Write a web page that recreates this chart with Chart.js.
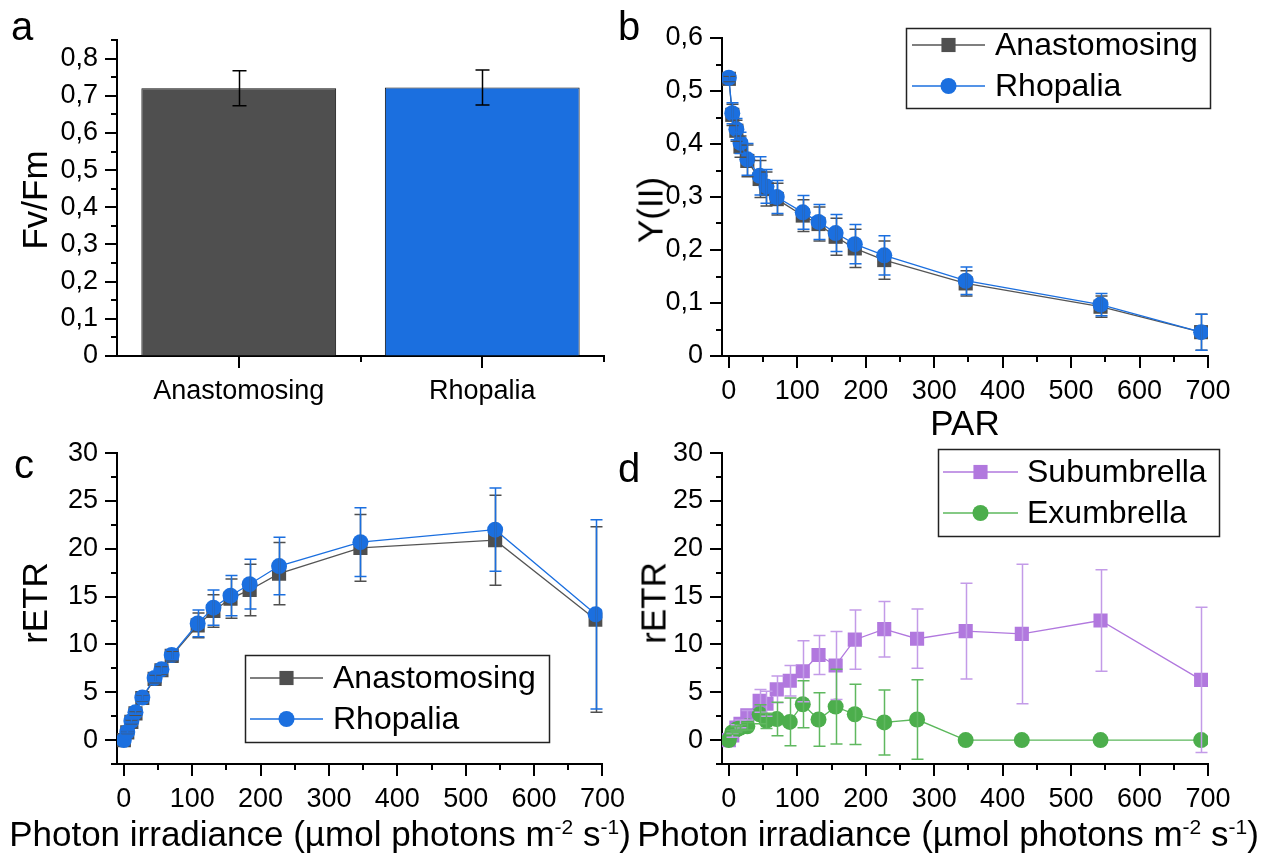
<!DOCTYPE html>
<html>
<head>
<meta charset="utf-8">
<script src="https://cdn.jsdelivr.net/npm/chart.js@4.4.0/dist/chart.umd.min.js"></script>
<style>
body { margin: 0; background: #fff; font-family: "Liberation Sans", Arial, sans-serif; }
#page { position: relative; width: 1264px; height: 855px; overflow: hidden; }
canvas { position: absolute; }
.lbl { position: absolute; color: #000; white-space: nowrap; line-height: 1; }
.letter { font-size: 40px; }
.ytitle { font-size: 35px; transform: translate(-50%, -50%) rotate(-90deg); }
.xtitle { font-size: 35px; transform: translate(-50%, -50%); }
.xtitle sup { font-size: 21px; vertical-align: 0.55em; }
</style>
</head>
<body>
<div id="page">
    <canvas id="chartA" width="632" height="430" style="left:0;top:0"></canvas>
    <canvas id="chartB" width="632" height="430" style="left:632px;top:0"></canvas>
    <canvas id="chartC" width="632" height="425" style="left:0;top:430px"></canvas>
    <canvas id="chartD" width="632" height="425" style="left:632px;top:430px"></canvas>

    <div class="lbl letter" style="left:11px;top:6px">a</div>
    <div class="lbl letter" style="left:618px;top:6px">b</div>
    <div class="lbl letter" style="left:14px;top:444px">c</div>
    <div class="lbl letter" style="left:618px;top:448px">d</div>

    <div class="lbl ytitle" style="left:34px;top:200px">Fv/Fm</div>
    <div class="lbl ytitle" style="left:650px;top:210px">Y(II)</div>
    <div class="lbl ytitle" style="left:34px;top:603px">rETR</div>
    <div class="lbl ytitle" style="left:653px;top:603px">rETR</div>

    <div class="lbl xtitle" style="left:965px;top:422px">PAR</div>
    <div class="lbl xtitle" style="left:320px;top:833px">Photon irradiance (µmol photons m<sup>-2</sup> s<sup>-1</sup>)</div>
    <div class="lbl xtitle" style="left:948px;top:833px">Photon irradiance (µmol photons m<sup>-2</sup> s<sup>-1</sup>)</div>
</div>
<script>
// ---- data ----
const groups = ['Anastomosing', 'Rhopalia'];
const fvfm = [0.720, 0.722];
const fvfmSd = [0.047, 0.047];

// panels b and c share the light steps
const par = [0, 5, 11, 17, 27, 45, 55, 70, 108, 131, 156, 184, 227, 346, 543, 690];
const yiiAnast = [0.523, 0.455, 0.425, 0.395, 0.368, 0.334, 0.315, 0.296, 0.265, 0.249, 0.225, 0.203, 0.181, 0.137, 0.093, 0.045];
const yiiAnastSd = [0.005, 0.02, 0.02, 0.02, 0.03, 0.035, 0.032, 0.03, 0.03, 0.032, 0.035, 0.036, 0.036, 0.024, 0.02, 0.034];
const yiiRhop = [0.525, 0.458, 0.428, 0.402, 0.371, 0.340, 0.320, 0.300, 0.271, 0.253, 0.232, 0.211, 0.190, 0.142, 0.097, 0.045];
const yiiRhopSd = [0.005, 0.02, 0.02, 0.02, 0.03, 0.036, 0.032, 0.031, 0.032, 0.033, 0.035, 0.037, 0.037, 0.026, 0.021, 0.034];

const etrAnast = [0, 0.8, 1.9, 2.8, 4.4, 6.4, 7.3, 8.8, 12.0, 13.5, 14.8, 15.7, 17.4, 20.1, 20.9, 12.6];
const etrAnastSd = [0, 0.1, 0.2, 0.2, 0.3, 0.4, 0.4, 0.5, 1.3, 1.7, 2.05, 2.7, 3.25, 3.5, 4.7, 9.7];
const etrRhop = [0, 0.85, 2.0, 2.9, 4.45, 6.5, 7.4, 8.9, 12.2, 13.85, 15.1, 16.3, 18.2, 20.7, 22.0, 13.15];
const etrRhopSd = [0, 0.1, 0.2, 0.2, 0.3, 0.4, 0.4, 0.5, 1.4, 1.85, 2.1, 2.6, 3.0, 3.6, 4.35, 9.9];

// panel d
const parD = [0, 5, 11, 17, 27, 45, 55, 70, 89, 108, 131, 156, 184, 227, 275, 346, 428, 543, 690];
const etrSub = [0, 0.5, 1.3, 1.7, 2.6, 4.1, 3.8, 5.3, 6.2, 7.2, 8.9, 7.8, 10.5, 11.6, 10.6, 11.4, 11.1, 12.5, 6.3];
const etrSubSd = [0, 0.2, 0.3, 0.4, 0.5, 1.2, 1.3, 1.4, 1.6, 3.2, 2.05, 3.55, 3.1, 2.9, 3.1, 5.0, 7.3, 5.3, 7.6];
const etrExo = [0, 0.8, 1.1, 1.3, 1.45, 2.7, 2.0, 2.2, 1.9, 3.75, 2.15, 3.5, 2.7, 1.85, 2.15, 0, 0, 0, 0];
const etrExoSd = [0, 0.2, 0.3, 0.3, 0.4, 1.0, 0.8, 1.75, 2.5, 2.45, 2.8, 3.9, 3.15, 3.4, 4.15, 0, 0, 0, 0];

// tick labels
const fvTicks = [0, 0.1, 0.2, 0.3, 0.4, 0.5, 0.6, 0.7, 0.8];
const yiiTicks = [0, 0.1, 0.2, 0.3, 0.4, 0.5, 0.6];
const parTicks = [0, 100, 200, 300, 400, 500, 600, 700];
const etrTicks = [0, 5, 10, 15, 20, 25, 30];

const GREY = '#4f4f4f';
const BLUE = '#1b6fdf';
const PURPLE = '#b178de';
const GREEN = '#4cae4c';
const FONT = 'Liberation Sans';
const TICK_SIZE = 27;

// minor ticks sit halfway between major ones
function minorsOf(majors, min, max) {
    const step = majors[1] - majors[0];
    const out = [];
    majors.forEach(m => out.push(m - step / 2));
    out.push(majors[majors.length - 1] + step / 2);
    return out.filter(v => v >= min - 1e-9 && v <= max + 1e-9 && !majors.some(m => Math.abs(m - v) < 1e-9));
}
const comma = v => v === 0 ? '0' : v.toFixed(1).replace('.', ',');
const isIn = (list, v) => list.some(m => Math.abs(m - v) < 1e-9);
const pts = (xs, ys) => xs.map((x, i) => ({ x: x, y: ys[i] }));

// outward major/minor ticks like Origin
const outTicks = {
    id: 'outTicks',
    afterDraw(chart, args, o) {
        const ctx = chart.ctx;
        const area = chart.chartArea;
        ctx.save();
        ctx.strokeStyle = '#000';
        ctx.lineWidth = 2;
        ['x', 'y'].forEach(id => {
            const s = chart.scales[id];
            const spec = o[id];
            if (!spec) return;
            const draw = (vals, len) => vals.forEach(v => {
                const p = Math.round(s.getPixelForValue(v));
                ctx.beginPath();
                if (id === 'x') { ctx.moveTo(p, area.bottom); ctx.lineTo(p, area.bottom + len); }
                else { ctx.moveTo(area.left, p); ctx.lineTo(area.left - len, p); }
                ctx.stroke();
            });
            draw(spec.major, 12);
            draw(spec.minor, 6);
        });
        ctx.restore();
    }
};

const errorBars = {
    id: 'errorBars',
    afterDatasetsDraw(chart) {
        const ctx = chart.ctx;
        const ys = chart.scales.y;
        const order = chart.data.datasets.map((d, i) => i).sort((a, b) => (chart.data.datasets[b].order || 0) - (chart.data.datasets[a].order || 0));
        order.forEach(i => {
            const ds = chart.data.datasets[i];
            if (!ds.errors) return;
            const meta = chart.getDatasetMeta(i);
            ctx.save();
            ctx.strokeStyle = ds.errorColor;
            ctx.lineWidth = 1.5;
            meta.data.forEach((el, j) => {
                const e = ds.errors[j];
                if (!e) return;
                const v = meta.controller.getParsed(j).y;
                const x = Math.round(el.x) + 0.5;
                const top = ys.getPixelForValue(v + e);
                const bot = ys.getPixelForValue(v - e);
                const cap = ds.capHalf || 6;
                ctx.beginPath();
                ctx.moveTo(x, top); ctx.lineTo(x, bot);
                ctx.moveTo(x - cap, top); ctx.lineTo(x + cap, top);
                ctx.moveTo(x - cap, bot); ctx.lineTo(x + cap, bot);
                ctx.stroke();
            });
            ctx.restore();
        });
    }
};

// framed legend with line + symbol samples
const boxLegend = {
    id: 'boxLegend',
    afterDraw(chart, args, o) {
        if (!o.box) return;
        const ctx = chart.ctx;
        ctx.save();
        ctx.strokeStyle = '#222';
        ctx.lineWidth = 1.5;
        ctx.strokeRect(o.box[0] + 0.5, o.box[1] + 0.5, o.box[2], o.box[3]);
        chart.data.datasets.forEach((ds, i) => {
            const y = o.rows[i];
            ctx.strokeStyle = ds.borderColor;
            ctx.lineWidth = 1.5;
            ctx.beginPath();
            ctx.moveTo(o.line[0], y); ctx.lineTo(o.line[1], y);
            ctx.stroke();
            ctx.fillStyle = ds.pointBackgroundColor;
            Chart.helpers.drawPoint(ctx, { pointStyle: ds.pointStyle, radius: ds.pointRadius, rotation: 0, borderWidth: 0 }, (o.line[0] + o.line[1]) / 2, y);
            ctx.fillStyle = '#000';
            ctx.font = '32px "' + FONT + '"';
            ctx.textBaseline = 'middle';
            ctx.fillText(ds.label, o.textX, y + 1);
        });
        ctx.restore();
    }
};

Chart.register(outTicks, errorBars, boxLegend);

function valueAxis(min, max, majors, fmt, width) {
    const all = majors.concat(minorsOf(majors, min, max)).sort((a, b) => a - b);
    return {
        axis: {
            type: 'linear', min: min, max: max,
            afterBuildTicks: s => { s.ticks = all.map(v => ({ value: v })); },
            afterFit: s => { if (width) s.width = width; },
            grid: { drawOnChartArea: false, drawTicks: true, tickLength: 12, color: 'transparent', tickColor: 'transparent' },
            border: { display: true, color: '#000', width: 2 },
            ticks: {
                autoSkip: false, maxRotation: 0, padding: 7, color: '#000',
                font: { family: FONT, size: TICK_SIZE },
                callback: v => isIn(majors, v) ? fmt(v) : ''
            }
        },
        spec: { major: majors, minor: minorsOf(majors, min, max) }
    };
}

function xParAxis(height) {
    const a = valueAxis(-10, 700, parTicks, v => String(v), 0);
    a.axis.afterFit = s => { s.height = height; };
    return a;
}

const baseOpts = {
    responsive: false,
    animation: false,
    events: []
};

// ---- panel a ----
const yA = valueAxis(0, 0.85, fvTicks, comma, 117);
const xA = {
    type: 'category',
    afterFit: s => { s.height = 74; },
    grid: { drawOnChartArea: false, drawTicks: true, tickLength: 12, color: 'transparent', tickColor: 'transparent', offset: true },
    border: { display: true, color: '#000', width: 2 },
    ticks: { color: '#000', padding: 7, font: { family: FONT, size: TICK_SIZE } }
};
new Chart(document.getElementById('chartA').getContext('2d'), {
    type: 'bar',
    data: {
        labels: groups,
        datasets: [{
            data: fvfm,
            backgroundColor: [GREY, BLUE],
            borderColor: '#111',
            borderWidth: 1,
            barPercentage: 0.8,
            categoryPercentage: 1.0,
            errors: fvfmSd,
            errorColor: '#000',
            capHalf: 7
        }]
    },
    options: {
        ...baseOpts,
        layout: { padding: { top: 40, right: 28, left: 0, bottom: 0 } },
        scales: { x: xA, y: yA.axis },
        plugins: {
            legend: { display: false }, tooltip: { enabled: false },
            outTicks: { x: { major: [0, 1], minor: [0.5, 1.5] }, y: yA.spec }
        }
    }
});

// ---- panel b ----
const yB = valueAxis(0, 0.6, yiiTicks, comma, 90);
const xB = xParAxis(74);
new Chart(document.getElementById('chartB').getContext('2d'), {
    type: 'scatter',
    data: {
        datasets: [{
            label: 'Anastomosing',
            data: pts(par, yiiAnast),
            errors: yiiAnastSd, errorColor: GREY,
            showLine: true, borderColor: '#555', borderWidth: 1.3,
            pointStyle: 'rect', pointRadius: 10, pointBackgroundColor: GREY, pointBorderWidth: 0,
            order: 2
        }, {
            label: 'Rhopalia',
            data: pts(par, yiiRhop),
            errors: yiiRhopSd, errorColor: BLUE,
            showLine: true, borderColor: BLUE, borderWidth: 1.3,
            pointStyle: 'circle', pointRadius: 8, pointBackgroundColor: BLUE, pointBorderWidth: 0,
            order: 1
        }]
    },
    options: {
        ...baseOpts,
        layout: { padding: { top: 38, right: 56, left: 0, bottom: 0 } },
        scales: { x: xB.axis, y: yB.axis },
        plugins: {
            legend: { display: false }, tooltip: { enabled: false },
            outTicks: { x: xB.spec, y: yB.spec },
            boxLegend: { box: [274, 28, 304, 80], rows: [45, 86], line: [280, 353], textX: 363 }
        }
    }
});

// ---- panel c ----
const yC = valueAxis(-2.5, 30, etrTicks, v => String(v), 117);
const xC = xParAxis(91);
new Chart(document.getElementById('chartC').getContext('2d'), {
    type: 'scatter',
    data: {
        datasets: [{
            label: 'Anastomosing',
            data: pts(par, etrAnast),
            errors: etrAnastSd, errorColor: GREY,
            showLine: true, borderColor: '#555', borderWidth: 1.3,
            pointStyle: 'rect', pointRadius: 10, pointBackgroundColor: GREY, pointBorderWidth: 0,
            order: 2
        }, {
            label: 'Rhopalia',
            data: pts(par, etrRhop),
            errors: etrRhopSd, errorColor: BLUE,
            showLine: true, borderColor: BLUE, borderWidth: 1.3,
            pointStyle: 'circle', pointRadius: 8, pointBackgroundColor: BLUE, pointBorderWidth: 0,
            order: 1
        }]
    },
    options: {
        ...baseOpts,
        layout: { padding: { top: 17, right: 29, left: 0, bottom: 0 } },
        scales: { x: xC.axis, y: yC.axis },
        plugins: {
            legend: { display: false }, tooltip: { enabled: false },
            outTicks: { x: xC.spec, y: yC.spec },
            boxLegend: { box: [245, 225, 304, 87], rows: [248, 289], line: [250, 323], textX: 333 }
        }
    }
});

// ---- panel d ----
const yD = valueAxis(-2.5, 30, etrTicks, v => String(v), 90);
const xD = xParAxis(91);
new Chart(document.getElementById('chartD').getContext('2d'), {
    type: 'scatter',
    data: {
        datasets: [{
            label: 'Subumbrella',
            data: pts(parD, etrSub),
            errors: etrSubSd, errorColor: '#c39be8',
            showLine: true, borderColor: PURPLE, borderWidth: 1.3,
            pointStyle: 'rect', pointRadius: 10, pointBackgroundColor: PURPLE, pointBorderWidth: 0,
            order: 2
        }, {
            label: 'Exumbrella',
            data: pts(parD, etrExo),
            errors: etrExoSd, errorColor: '#5fb85f',
            showLine: true, borderColor: '#5cb85c', borderWidth: 1.3,
            pointStyle: 'circle', pointRadius: 8, pointBackgroundColor: GREEN, pointBorderWidth: 0,
            order: 1
        }]
    },
    options: {
        ...baseOpts,
        layout: { padding: { top: 17, right: 56, left: 0, bottom: 0 } },
        scales: { x: xD.axis, y: yD.axis },
        plugins: {
            legend: { display: false }, tooltip: { enabled: false },
            outTicks: { x: xD.spec, y: yD.spec },
            boxLegend: { box: [306, 19, 281, 87], rows: [42, 83], line: [311, 386], textX: 395 }
        }
    }
});
</script>
</body>
</html>
